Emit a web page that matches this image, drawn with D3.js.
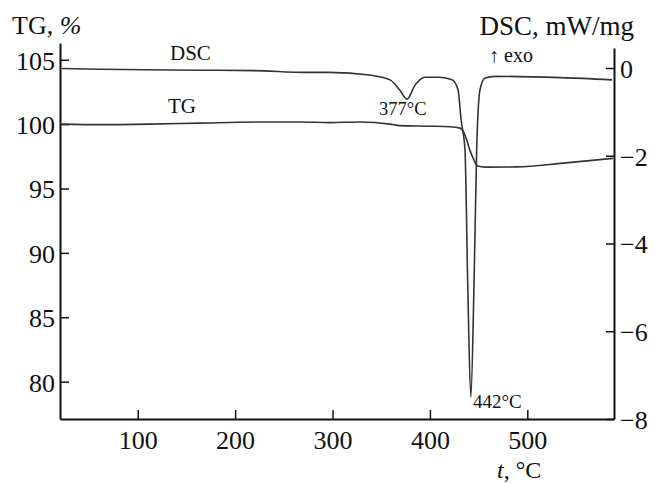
<!DOCTYPE html>
<html>
<head>
<meta charset="utf-8">
<script src="https://cdn.jsdelivr.net/npm/d3@7"></script>
<style>
  body { margin: 0; background: #fff; }
  text { font-family: "Liberation Serif", "DejaVu Serif", serif; fill: #111; }
</style>
</head>
<body>
<div id="graphic"></div>
<script>
// temperature (°C) and DSC signal (mW/mg)
const dscTemp = [22, 61, 164, 220, 272, 297, 338, 359, 369, 376.5, 384.7, 395, 410, 422.7, 428.9, 432, 436, 438.8, 442, 445.3, 448, 451.4, 456.6, 467, 533.7, 587];
const dscVal  = [-0.01, -0.03, -0.05, -0.06, -0.10, -0.10, -0.16, -0.27, -0.50, -0.71, -0.39, -0.21, -0.21, -0.27, -0.50, -1.18, -1.87, -4.9, -7.5, -4.9, -1.87, -0.50, -0.23, -0.19, -0.22, -0.27];

// temperature (°C) and TG mass (%)
const tgTemp = [22, 61, 112.6, 164, 220.6, 266.6, 297.5, 328, 359, 369, 400, 420.7, 431, 436, 441, 445.3, 449, 456.6, 489, 536.7, 588];
const tgVal  = [100.0, 99.96, 100.0, 100.08, 100.16, 100.16, 100.12, 100.16, 100.0, 99.88, 99.84, 99.8, 99.69, 99.15, 97.98, 97.2, 96.74, 96.66, 96.68, 96.97, 97.34];

const xTicks = [100, 200, 300, 400, 500];
const tgTicks = [80, 85, 90, 95, 100, 105];
const dscTicks = [0, -2, -4, -6, -8];

const width = 656, height = 483;
const margin = {top: 43, right: 42, bottom: 64, left: 60};
const plotWidth = width - margin.left - margin.right;
const plotHeight = height - margin.top - margin.bottom;

const svg = d3.select("#graphic")
              .append("svg")
              .attr("width", width)
              .attr("height", height);
const plotSvg = svg.append("g")
                   .attr("transform", "translate(" + margin.left + "," + margin.top + ")");

const x = d3.scaleLinear().domain([20.2, 589]).range([0, plotWidth]);
const yTG = d3.scaleLinear().domain([77.1, 106.3]).range([plotHeight, 0]);
const yDSC = d3.scaleLinear().domain([-8, 0.456]).range([plotHeight, 5]);

function styleAxis(g) {
    g.selectAll(".domain").attr("stroke", "#111").attr("stroke-width", 2);
    g.selectAll(".tick line").attr("stroke", "#111").attr("stroke-width", 1.5);
    g.selectAll(".tick text").style("font-family", "Liberation Serif").style("font-size", "26px").attr("fill", "#111");
}

// bottom axis, ticks pointing inward
plotSvg.append("g")
       .attr("transform", "translate(0," + plotHeight + ")")
       .call(d3.axisBottom(x).tickValues(xTicks).tickSize(-9).tickSizeOuter(0).tickPadding(12))
       .call(styleAxis);

// left TG axis
plotSvg.append("g")
       .call(d3.axisLeft(yTG).tickValues(tgTicks).tickSize(-9).tickSizeOuter(0).tickPadding(5))
       .call(styleAxis)
       .call(g => g.selectAll(".tick text").attr("dy", "0.36em"));

// right DSC axis
plotSvg.append("g")
       .attr("transform", "translate(" + plotWidth + ",0)")
       .call(d3.axisRight(yDSC).tickValues(dscTicks).tickSize(-8).tickSizeOuter(0).tickPadding(6))
       .call(styleAxis)
       .call(g => g.selectAll(".tick text").attr("dy", "0.36em"));

// curves
const dscData = dscTemp.map((t, i) => ({t: t, v: dscVal[i]}));
const tgData = tgTemp.map((t, i) => ({t: t, v: tgVal[i]}));

plotSvg.append("path")
       .datum(dscData)
       .attr("fill", "none")
       .attr("stroke", "#333")
       .attr("stroke-width", 1.6)
       .attr("stroke-linejoin", "round")
       .attr("d", d3.line().curve(d3.curveMonotoneX)
                     .x(d => x(d.t))
                     .y(d => yDSC(d.v)));

plotSvg.append("path")
       .datum(tgData)
       .attr("fill", "none")
       .attr("stroke", "#333")
       .attr("stroke-width", 1.6)
       .attr("stroke-linejoin", "round")
       .attr("d", d3.line().curve(d3.curveMonotoneX)
                     .x(d => x(d.t))
                     .y(d => yTG(d.v)));

// labels
svg.append("text").attr("x", 12).attr("y", 34).style("font-size", "26px")
   .html('TG, <tspan font-style="italic">%</tspan>');
svg.append("text").attr("x", 634).attr("y", 35).attr("text-anchor", "end").style("font-size", "27px")
   .text("DSC, mW/mg");
svg.append("text").attr("x", 489).attr("y", 62).style("font-size", "20px").text("↑ exo");
svg.append("text").attr("x", 170).attr("y", 60).style("font-size", "21px").text("DSC");
svg.append("text").attr("x", 168).attr("y", 113).style("font-size", "21px").text("TG");
svg.append("text").attr("x", 379).attr("y", 115).style("font-size", "18.5px").text("377°C");
svg.append("text").attr("x", 473).attr("y", 408).style("font-size", "19px").text("442°C");
svg.append("text").attr("x", 497).attr("y", 478).style("font-size", "24px")
   .html('<tspan font-style="italic">t</tspan>, °C');
</script>
</body>
</html>
